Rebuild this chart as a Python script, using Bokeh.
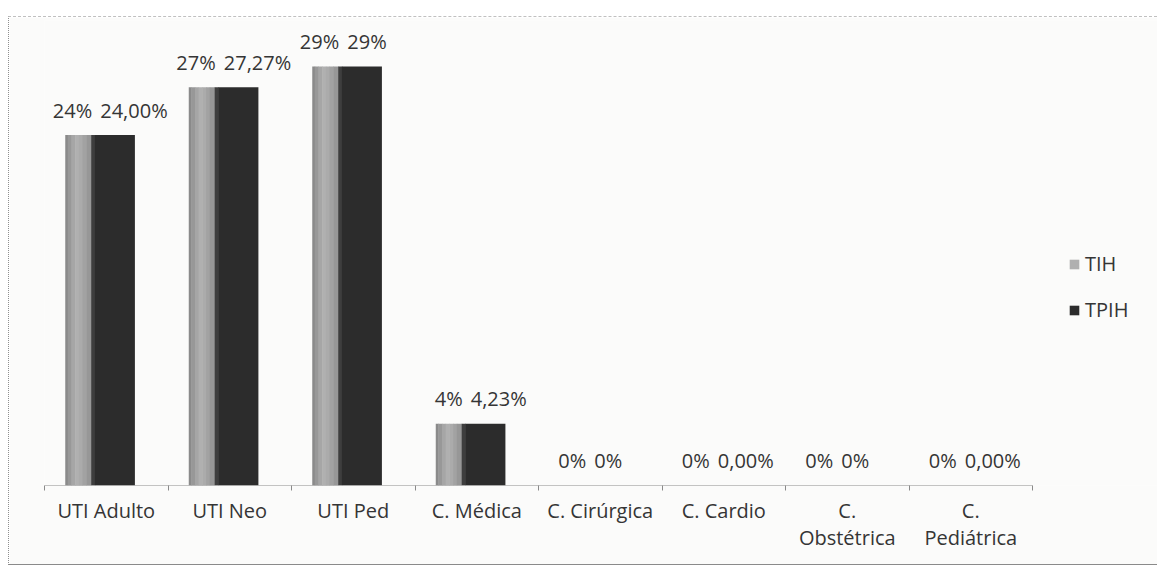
from bokeh.plotting import figure
from bokeh.models import Range1d, FixedTicker, Legend, LegendItem, ColumnDataSource
from bokeh.transform import dodge
from bokeh.core.properties import value
from bokeh.embed import file_html
from bokeh.resources import INLINE

categories = ["UTI Adulto", "UTI Neo", "UTI Ped", "C. Médica", "C. Cirúrgica",
              "C. Cardio", "C. Obstétrica", "C. Pediátrica"]
tick_labels = ["UTI Adulto", "UTI Neo", "UTI Ped", "C. Médica", "C. Cirúrgica",
               "C. Cardio", "C.\nObstétrica", "C.\nPediátrica"]
tih = [24.0, 27.27, 28.7, 4.23, 0, 0, 0, 0]
tpih = [24.0, 27.27, 28.7, 4.23, 0, 0, 0, 0]
tih_labels = ["24%", "27%", "29%", "4%", "0%", "0%", "0%", "0%"]
tpih_labels = ["24,00%", "27,27%", "29%", "4,23%", "0%", "0,00%", "0%", "0,00%"]

FONT = "Open Sans"
TXT = "#353535"

n = len(categories)
xc = [i + 0.5 for i in range(n)]
src = ColumnDataSource(dict(x=xc, tih=tih, tpih=tpih, tl=tih_labels, pl=tpih_labels))

p = figure(width=1149, height=549, x_range=Range1d(0, 9.02), y_range=Range1d(0, 31.85),
           output_backend="svg", toolbar_location=None,
           min_border_left=35, min_border_right=0, min_border_top=3, min_border_bottom=81)
p.background_fill_color = "#fbfbfa"
p.border_fill_color = "#fbfbfa"
p.outline_line_color = None
p.grid.visible = False
p.yaxis.visible = False
p.styles = {"margin-left": "8px", "margin-top": "16px",
            "border-left": "1px dotted #8f8f8f", "border-top": "1px dashed #c0c0c0",
            "border-bottom": "1px solid #8a8a8a"}

# bars: light series (with a soft shading), dark series
light_shades = [(-0.32, 0.02, "#8a8a8a"), (-0.295, 0.03, "#989898"),
                (-0.265, 0.03, "#a6a6a6"), (-0.235, 0.03, "#b0b0b0"),
                (-0.205, 0.03, "#ababab"), (-0.175, 0.03, "#a2a2a2"),
                (-0.14, 0.04, "#979797")]
dark_shades = [(-0.105, 0.03, "#3e3e3e"), (0.07, 0.32, "#2c2c2c")]

r_tih = None
for off, w, c in light_shades:
    r = p.vbar(x=dodge("x", off, range=p.x_range), top="tih", width=w + 0.004, bottom=0,
               source=src, fill_color=c, line_color=None)
    if off == -0.235:
        r_tih = r
r_tpih = None
for off, w, c in dark_shades:
    r = p.vbar(x=dodge("x", off, range=p.x_range), top="tpih", width=w + 0.004, bottom=0,
               source=src, fill_color=c, line_color=None)
    r_tpih = r

# baseline
p.segment(x0=0, x1=n, y0=0, y1=0, line_color="#8a8a8a", line_width=1)

# labels
p.text(x="x", y="tih", text="tl", source=src, text_align="right", text_baseline="middle",
       x_offset=-14, y_offset=-25, text_font=value(FONT), text_font_size="20px", text_color=TXT)
p.text(x="x", y="tpih", text="pl", source=src, text_align="left", text_baseline="middle",
       x_offset=-6, y_offset=-25, text_font=value(FONT), text_font_size="20px", text_color=TXT)

# axis
ax = p.xaxis[0]
ax.ticker = FixedTicker(ticks=xc, minor_ticks=list(range(n + 1)))
ax.major_label_overrides = {x: lab for x, lab in zip(xc, tick_labels)}
ax.axis_line_color = None
ax.major_tick_line_color = None
ax.major_tick_out = 0
ax.major_tick_in = 0
ax.minor_tick_line_color = "#8a8a8a"
ax.minor_tick_out = 5
ax.minor_tick_in = 0
ax.major_label_standoff = 6
ax.major_label_text_font = FONT
ax.major_label_text_font_size = "20px"
ax.major_label_text_line_height = 1.0
ax.major_label_text_color = TXT

legend = Legend(items=[LegendItem(label="TIH", renderers=[r_tih]),
                       LegendItem(label="TPIH", renderers=[r_tpih])],
                location=(1024, 162), orientation="vertical")
legend.glyph_width = 12
legend.glyph_height = 12
legend.label_standoff = 5
legend.spacing = 19
legend.padding = 0
legend.margin = 0
legend.border_line_color = None
legend.background_fill_alpha = 0
legend.label_text_font = FONT
legend.label_text_font_size = "20px"
legend.label_text_color = TXT
p.add_layout(legend)

open("out.html", "w").write(file_html(p, INLINE))
